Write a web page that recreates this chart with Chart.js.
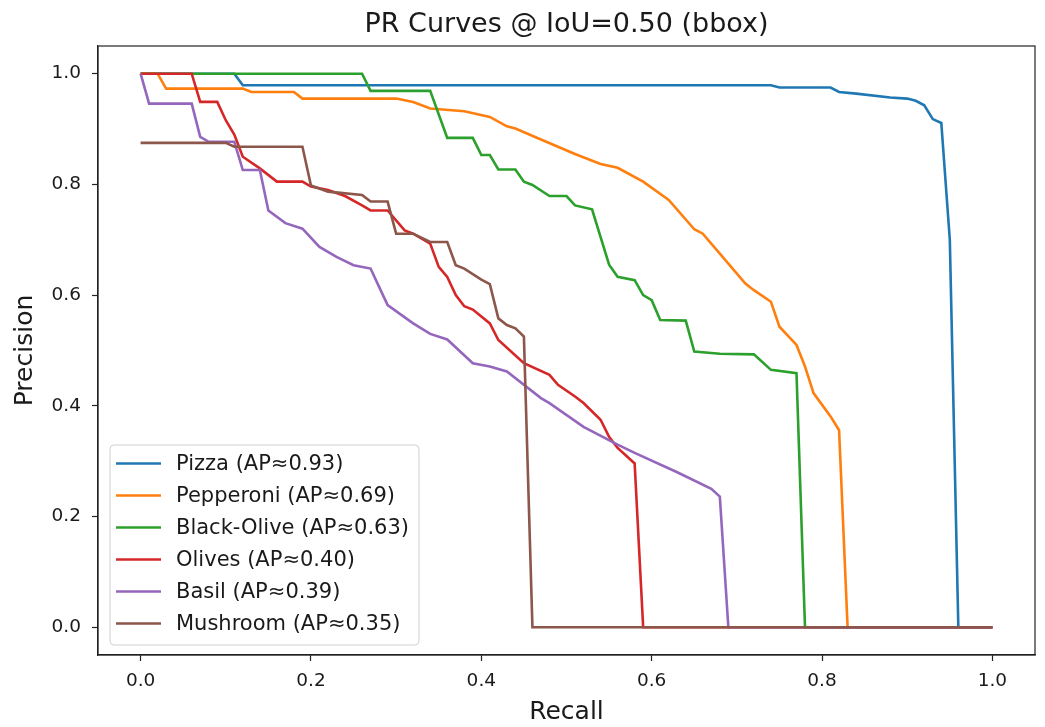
<!DOCTYPE html>
<html>
<head>
<meta charset="utf-8">
<title>PR Curves</title>
<script src="https://cdn.jsdelivr.net/npm/chart.js@4.4.0/dist/chart.umd.min.js"></script>
<style>
  html, body { margin: 0; padding: 0; background: #fff; }
  #wrap { width: 1045px; height: 727px; }
</style>
</head>
<body>
<div id="wrap"><canvas id="pr-chart" width="1045" height="727"></canvas></div>
<script>
// PR curves (vertices only, straight lines between)
const chartTitle = 'PR Curves @ IoU=0.50 (bbox)';
const classNames = ['Pizza', 'Pepperoni', 'Black-Olive', 'Olives', 'Basil', 'Mushroom'];
const apValues = ['0.93', '0.69', '0.63', '0.40', '0.39', '0.35'];
const lineColors = ['#1f77b4', '#ff7f0e', '#2ca02c', '#d62728', '#9467bd', '#8c564b'];

const pizzaRecall = [0, 0.11, 0.12, 0.74, 0.75, 0.81, 0.82, 0.84, 0.88, 0.90, 0.91, 0.92, 0.93, 0.94, 0.95, 0.96, 1.0];
const pizzaPrecision = [1.0, 1.0, 0.979, 0.979, 0.975, 0.975, 0.967, 0.964, 0.957, 0.955, 0.951, 0.943, 0.918, 0.911, 0.70, 0, 0];

const pepperoniRecall = [0, 0.02, 0.03, 0.12, 0.13, 0.18, 0.19, 0.30, 0.32, 0.34, 0.38, 0.41, 0.43, 0.44, 0.47, 0.49, 0.51, 0.54, 0.56, 0.59, 0.62, 0.65, 0.66, 0.68, 0.71, 0.72, 0.74, 0.75, 0.77, 0.78, 0.79, 0.81, 0.82, 0.83, 1.0];
const pepperoniPrecision = [1.0, 1.0, 0.973, 0.973, 0.967, 0.967, 0.955, 0.955, 0.949, 0.937, 0.932, 0.922, 0.905, 0.901, 0.881, 0.868, 0.855, 0.837, 0.830, 0.805, 0.772, 0.719, 0.711, 0.675, 0.621, 0.609, 0.588, 0.543, 0.510, 0.471, 0.423, 0.381, 0.356, 0, 0];

const blackOliveRecall = [0, 0.26, 0.27, 0.34, 0.36, 0.39, 0.40, 0.41, 0.42, 0.44, 0.45, 0.46, 0.48, 0.50, 0.51, 0.53, 0.55, 0.56, 0.58, 0.59, 0.60, 0.61, 0.64, 0.65, 0.68, 0.72, 0.74, 0.77, 0.78, 1.0];
const blackOlivePrecision = [1.0, 1.0, 0.969, 0.969, 0.884, 0.884, 0.853, 0.853, 0.827, 0.827, 0.805, 0.799, 0.779, 0.779, 0.762, 0.755, 0.655, 0.633, 0.627, 0.600, 0.591, 0.555, 0.554, 0.498, 0.494, 0.493, 0.465, 0.459, 0, 0];

const olivesRecall = [0, 0.06, 0.07, 0.09, 0.10, 0.11, 0.12, 0.14, 0.16, 0.19, 0.20, 0.22, 0.24, 0.26, 0.27, 0.29, 0.31, 0.32, 0.34, 0.35, 0.36, 0.37, 0.38, 0.39, 0.41, 0.42, 0.45, 0.48, 0.49, 0.51, 0.52, 0.54, 0.55, 0.56, 0.58, 0.59, 1.0];
const olivesPrecision = [1.0, 1.0, 0.949, 0.949, 0.916, 0.890, 0.850, 0.829, 0.805, 0.805, 0.796, 0.790, 0.779, 0.762, 0.753, 0.753, 0.717, 0.711, 0.693, 0.651, 0.633, 0.600, 0.580, 0.574, 0.549, 0.519, 0.477, 0.456, 0.438, 0.417, 0.405, 0.375, 0.344, 0.324, 0.296, 0, 0];

const basilRecall = [0, 0.01, 0.06, 0.07, 0.08, 0.11, 0.12, 0.14, 0.15, 0.17, 0.19, 0.21, 0.23, 0.25, 0.27, 0.28, 0.29, 0.32, 0.34, 0.36, 0.39, 0.41, 0.43, 0.47, 0.48, 0.52, 0.56, 0.58, 0.63, 0.67, 0.68, 0.69, 1.0];
const basilPrecision = [1.0, 0.946, 0.946, 0.886, 0.877, 0.877, 0.826, 0.826, 0.753, 0.730, 0.720, 0.687, 0.669, 0.654, 0.648, 0.615, 0.582, 0.549, 0.530, 0.520, 0.477, 0.471, 0.462, 0.414, 0.405, 0.362, 0.330, 0.315, 0.280, 0.250, 0.236, 0, 0];

const mushroomRecall = [0, 0.10, 0.11, 0.19, 0.20, 0.22, 0.26, 0.27, 0.29, 0.30, 0.32, 0.34, 0.36, 0.37, 0.38, 0.40, 0.41, 0.42, 0.43, 0.44, 0.45, 0.46, 1.0];
const mushroomPrecision = [0.875, 0.875, 0.868, 0.868, 0.798, 0.787, 0.781, 0.769, 0.769, 0.711, 0.711, 0.696, 0.696, 0.654, 0.648, 0.628, 0.620, 0.558, 0.546, 0.540, 0.525, 0, 0];

const axisTicks = [0, 0.2, 0.4, 0.6, 0.8, 1.0];

const recallSets = [pizzaRecall, pepperoniRecall, blackOliveRecall, olivesRecall, basilRecall, mushroomRecall];
const precisionSets = [pizzaPrecision, pepperoniPrecision, blackOlivePrecision, olivesPrecision, basilPrecision, mushroomPrecision];

const FONT = "'DejaVu Sans', 'Liberation Sans', sans-serif";
const TEXT = '#1a1a1a';

const datasets = classNames.map((name, i) => ({
    label: `${name} (AP≈${apValues[i]})`,
    data: recallSets[i].map((r, j) => ({ x: r, y: precisionSets[i][j] })),
    borderColor: lineColors[i],
    backgroundColor: lineColors[i],
    borderWidth: 2.6,
    pointRadius: 0,
    tension: 0,
    fill: false,
    order: classNames.length - i  // last class on top, like matplotlib
}));

// full box around the plot (matplotlib spines) + title centred over the axes
const frameBox = {
    id: 'frameBox',
    afterDatasetsDraw(chart) {
        const { ctx, chartArea: a } = chart;
        ctx.save();
        ctx.strokeStyle = '#222';
        ctx.lineWidth = 1.2;
        ctx.strokeRect(a.left, a.top, a.right - a.left, a.bottom - a.top);
        ctx.fillStyle = TEXT;
        ctx.font = `27px ${FONT}`;
        ctx.textAlign = 'center';
        ctx.textBaseline = 'middle';
        ctx.fillText(chartTitle, (a.left + a.right) / 2, 25);
        ctx.restore();
    }
};

// legend in lower-left corner inside the plot
const innerLegend = {
    id: 'innerLegend',
    afterDraw(chart) {
        const { ctx, chartArea: a } = chart;
        const rowH = 32;
        const fontPx = 21;
        ctx.save();
        ctx.font = `${fontPx}px ${FONT}`;
        const labels = chart.data.datasets.map(d => d.label);
        const maxW = Math.max(...labels.map(t => ctx.measureText(t).width));
        const left = a.left + 12;
        const bottom = a.bottom - 10;
        const height = 200;
        const top = bottom - height;
        const width = 66 + maxW + 10;

        ctx.beginPath();
        ctx.roundRect(left, top, width, height, 4);
        ctx.fillStyle = 'rgba(255,255,255,0.8)';
        ctx.fill();
        ctx.strokeStyle = '#d0d0d0';
        ctx.lineWidth = 1;
        ctx.stroke();

        chart.data.datasets.forEach((d, i) => {
            const cy = top + 18.5 + i * rowH;
            ctx.beginPath();
            ctx.strokeStyle = d.borderColor;
            ctx.lineWidth = 2.6;
            ctx.moveTo(left + 6, cy);
            ctx.lineTo(left + 51, cy);
            ctx.stroke();
            ctx.fillStyle = TEXT;
            ctx.textBaseline = 'middle';
            ctx.textAlign = 'left';
            ctx.fillText(d.label, left + 66, cy + 1);
        });
        ctx.restore();
    }
};

const ctx = document.getElementById('pr-chart');
new Chart(ctx, {
    type: 'line',
    data: { datasets: datasets },
    options: {
        responsive: false,
        animation: false,
        events: [],
        layout: { padding: { left: 0, right: 10, top: 46, bottom: 0 } },
        scales: {
            x: {
                type: 'linear',
                min: -0.05,
                max: 1.05,
                afterBuildTicks: axis => { axis.ticks = axisTicks.map(v => ({ value: v })); },
                afterFit: s => { s.height = 72; },
                grid: { display: true, drawOnChartArea: false, drawTicks: true, tickLength: 6, tickColor: '#222', tickWidth: 1.2 },
                border: { display: true, color: '#222', width: 1.2 },
                ticks: {
                    padding: 9,
                    color: TEXT,
                    font: { family: FONT, size: 18.5 },
                    maxRotation: 0,
                    callback: v => Number(v).toFixed(1)
                },
                title: {
                    display: true,
                    text: 'Recall',
                    color: TEXT,
                    font: { family: FONT, size: 25 },
                    padding: { top: 0, bottom: 0 }
                }
            },
            y: {
                type: 'linear',
                min: -0.05,
                max: 1.05,
                afterBuildTicks: axis => { axis.ticks = axisTicks.map(v => ({ value: v })); },
                afterFit: s => { s.width = 98; },
                grid: { display: true, drawOnChartArea: false, drawTicks: true, tickLength: 6, tickColor: '#222', tickWidth: 1.2 },
                border: { display: true, color: '#222', width: 1.2 },
                ticks: {
                    padding: 11,
                    color: TEXT,
                    font: { family: FONT, size: 18.5 },
                    callback: v => Number(v).toFixed(1)
                },
                title: {
                    display: true,
                    text: 'Precision',
                    color: TEXT,
                    font: { family: FONT, size: 25 },
                    padding: { top: 10, bottom: 0 }
                }
            }
        },
        plugins: {
            legend: { display: false },
            tooltip: { enabled: false },
            title: { display: false }
        }
    },
    plugins: [frameBox, innerLegend]
});
</script>
</body>
</html>
